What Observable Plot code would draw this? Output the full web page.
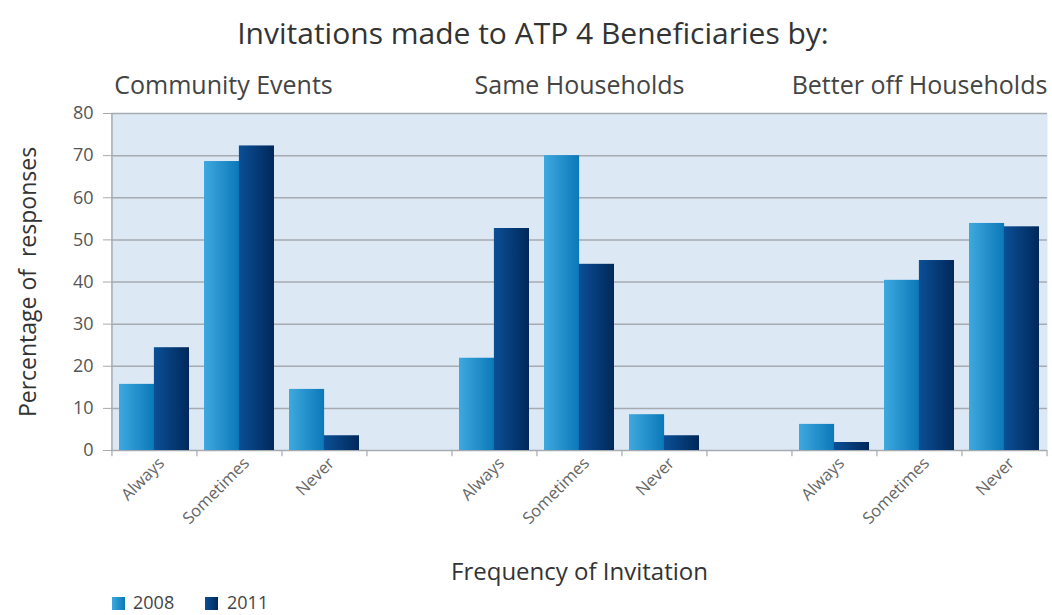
<!DOCTYPE html>
<html><head><meta charset="utf-8">
<script src="https://cdn.jsdelivr.net/npm/d3@7"></script>
<script src="https://cdn.jsdelivr.net/npm/@observablehq/plot@0.6"></script>
<style>
body{margin:0;background:#fff;font-family:"Open Sans",sans-serif;width:1052px;height:615px;overflow:hidden;position:relative;}
#title{height:60px;line-height:66px;text-align:center;font-size:30px;color:#333;padding-left:14px;box-sizing:border-box;}
#chart{height:555px;}
#legend{position:absolute;left:0;top:592px;height:20px;font-size:18px;line-height:20px;color:#444;}
.sw{position:absolute;top:5px;width:13px;height:13px;}
.lt{position:absolute;top:0px;}
</style></head><body>
<div id="title">Invitations made to ATP 4 Beneficiaries by:</div>
<div id="chart"></div>
<div id="legend">
  <div class="sw" style="left:112px;background:linear-gradient(90deg,#3ea9df,#0b78b8)"></div><div class="lt" style="left:133px">2008</div>
  <div class="sw" style="left:205px;background:linear-gradient(90deg,#0b4f96,#00285a)"></div><div class="lt" style="left:227px">2011</div>
</div>
<script>
const groups = ["Community Events", "Same Households", "Better off Households"];
const frequencies = ["Always", "Sometimes", "Never"];
const years = ["2008", "2011"];
const values2008 = [[15.7, 68.6, 14.5], [21.9, 70.0, 8.5], [6.2, 40.4, 53.9]];
const values2011 = [[24.4, 72.3, 3.5], [52.7, 44.2, 3.5], [1.9, 45.1, 53.1]];
const yTicks = [0, 10, 20, 30, 40, 50, 60, 70, 80];
const xTitle = "Frequency of Invitation";
const yTitle = "Percentage of  responses";

// build slot keys (with empty gap slots between groups)
const slots = [];
groups.forEach((g, gi) => {
  frequencies.forEach(f => slots.push(g + "|" + f));
  if (gi < groups.length - 1) slots.push("gap" + gi);
});
const rows = [];
groups.forEach((g, gi) => frequencies.forEach((f, fi) => {
  rows.push({key: g + "|" + f, year: "2008", value: values2008[gi][fi]});
  rows.push({key: g + "|" + f, year: "2011", value: values2011[gi][fi]});
}));
const groupRows = groups.map(g => ({key: g + "|" + frequencies[1], label: g}));

const W = 1052, H = 555, mL = 111, mR = 5, mT = 53, mB = 165;
const pI = 0.18, pO = 0.09;
const step = (W - mL - mR) / (slots.length - pI + 2 * pO);
const bw = step * (1 - pI);
const half = bw / 2;
const font = '"Open Sans", sans-serif';
const gridColor = "#a5abb1";

const chart = Plot.plot({
  width: W, height: H,
  marginLeft: mL, marginRight: mR, marginTop: mT, marginBottom: mB,
  style: {fontFamily: font, background: "transparent"},
  x: {domain: slots, paddingInner: pI, paddingOuter: pO, axis: null},
  y: {domain: [0, 80], axis: null},
  marks: [
    Plot.frame({fill: "#dde8f5", stroke: null}),
    Plot.ruleY(yTicks, {stroke: gridColor, strokeWidth: 1.5}),
    Plot.ruleX([slots[0]], {x: d => d, y1: 0, y2: 80, dx: -step / 2, stroke: gridColor, strokeWidth: 1.5}),
    Plot.barY(rows.filter(d => d.year === "2008"), {x: "key", y: "value", fill: "url(#g2008)", insetRight: half}),
    Plot.barY(rows.filter(d => d.year === "2011"), {x: "key", y: "value", fill: "url(#g2011)", insetLeft: half}),
    Plot.ruleX(slots, {x: d => d, y1: 0, y2: -1.5, dx: -step / 2, stroke: gridColor, strokeWidth: 1.2}),
    Plot.ruleX([slots[slots.length - 1]], {x: d => d, y1: 0, y2: -1.5, dx: step / 2, stroke: gridColor, strokeWidth: 1.2}),
    Plot.axisY({ticks: yTicks, tickSize: 8, tickPadding: 10, fontSize: 18, color: "#555", stroke: gridColor, label: null}),
    Plot.axisX({tickSize: 0, tickPadding: 10, tickRotate: -45, fontSize: 16.5, color: "#666", label: null,
      tickFormat: k => k.startsWith("gap") ? "" : k.split("|")[1], dx: 7}),
    Plot.text([xTitle], {frameAnchor: "bottom", lineAnchor: "middle", dy: 122, fontSize: 24, fill: "#333"}),
    Plot.text([yTitle], {frameAnchor: "left", textAnchor: "middle", lineAnchor: "middle", dx: -83, rotate: -90, fontSize: 23, fill: "#333"}),
    Plot.text(groupRows, {x: "key", frameAnchor: "top", lineAnchor: "middle", dy: -28, text: "label", fontSize: 25, fill: "#444"})
  ]
});

// shift the first group label slightly left, as in the original
d3.select(chart).selectAll("text").filter(function () { return this.textContent === groups[0]; })
  .attr("transform", function () { return (this.getAttribute("transform") || "") + " translate(-16,0)"; });

const defs = d3.select(chart).insert("defs", ":first-child");
function grad(id, c1, c2) {
  const g = defs.append("linearGradient").attr("id", id).attr("x1", "0").attr("x2", "1").attr("y1", "0").attr("y2", "0");
  g.append("stop").attr("offset", "0%").attr("stop-color", c1);
  g.append("stop").attr("offset", "100%").attr("stop-color", c2);
}
grad("g2008", "#3ea9df", "#0b78b8");
grad("g2011", "#0b4f96", "#00285a");
document.getElementById("chart").appendChild(chart);
</script>
</body></html>
